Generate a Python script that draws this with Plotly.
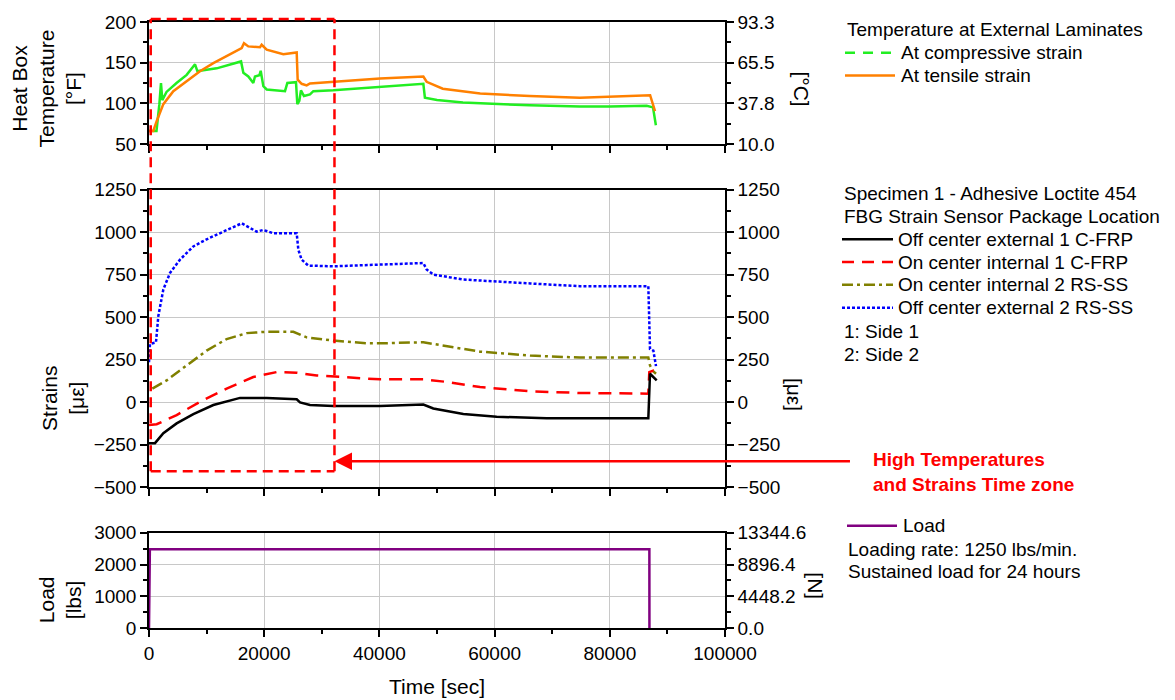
import plotly.graph_objects as go

# ---------------- data ----------------
# Heat box temperature [F]
comp_time = [0, 1300, 1800, 2080, 2310, 3040, 4780, 6540, 7990, 8400, 8850, 11750, 15980,
             16380, 17240, 18110, 18400, 19160, 19390, 19850, 20430, 23610, 24020, 25520,
             25750, 26100, 26380, 26900, 27950, 28530, 32000, 40100, 47630, 47900, 50000,
             54500, 60000, 66100, 74800, 80000, 86400, 87500, 88000]
comp_temp = [66, 66, 99, 125, 104, 114, 125, 135, 148, 139.5, 140, 143, 151.5,
             137.5, 133, 125, 133, 134.5, 140, 121, 117, 115, 125, 126,
             99, 103, 116, 109, 111, 115, 116, 120, 124, 107, 104,
             101, 99, 97.5, 96, 96, 97, 95, 73]

tens_time = [0, 750, 1330, 2490, 4220, 6540, 8850, 11170, 14640, 16090, 16490, 17240, 19270,
             19560, 20430, 23320, 25640, 25810, 26500, 27370, 27950, 32000, 40100, 47630,
             48200, 51000, 57500, 66100, 74800, 87000, 87850]
tens_temp = [66, 66, 78, 99, 115, 127, 139.5, 149.5, 162, 168, 174, 170, 169,
             172, 166, 160.5, 162.5, 129, 124, 122, 124.5, 126.5, 130.5, 133,
             126.5, 118, 112, 109, 107, 110, 90.5]

# FBG strains [micro-strain]
off1_time = [0, 1040, 2490, 4800, 7700, 11170, 15800, 20430, 25640, 26220, 27950, 32000,
             40100, 47630, 49360, 54570, 60360, 69040, 86690, 86980, 88140]
off1_strain = [-241, -241, -183, -125, -70, -17, 25, 25, 17, -2, -17, -23,
               -23, -14, -37, -70, -86, -95, -95, 167, 128]

on1_time = [0, 1330, 4800, 8850, 13480, 18110, 22160, 25640, 29110, 32000, 37790, 40100,
            47630, 51680, 57470, 66150, 74830, 86690, 86860, 87560, 88020]
on1_strain = [-134, -130, -76, 2, 80, 148, 177, 173, 157, 152, 138, 134,
              134, 119, 89, 64, 54, 50, 177, 186, 177]

on2_time = [580, 3070, 6540, 10010, 13480, 16960, 20430, 25060, 27370, 32000, 37790, 40100,
            47630, 51680, 57470, 66150, 74830, 86690, 86980, 87560, 88020]
on2_strain = [80, 128, 216, 303, 371, 406, 414, 414, 381, 362, 346, 346,
              352, 328, 297, 274, 262, 262, 216, 181, 167]

off2_time = [0, 170, 1210, 1620, 2490, 3650, 5380, 7700, 10010, 13480, 16090, 18690, 19850,
             21580, 25640, 25930, 26500, 27660, 32000, 40100, 47630, 48200, 49400, 54600,
             60400, 66200, 74800, 86690, 86980, 87560, 88020]
off2_strain = [235, 342, 352, 507, 663, 760, 838, 916, 958, 1013, 1052, 1003, 1013,
               993, 993, 896, 838, 803, 799, 809, 818, 780, 750, 721,
               708, 698, 682, 682, 313, 303, 212]

# Applied load [lbs]
load_time = [0, 150, 86870, 86880]
load_lbs = [0, 2480, 2480, 0]

# Axis ticks
temp_ticks_f = [50, 100, 150, 200]
strain_ticks = [-500, -250, 0, 250, 500, 750, 1000, 1250]
load_ticks = [0, 1000, 2000, 3000]
time_ticks = [0, 20000, 40000, 60000, 80000, 100000]

# High temperature / strain time window
ZONE_T0 = 300
ZONE_T1 = 32200
ZONE_STRAIN_BOTTOM = -407
ARROW_STRAIN = -348

# ---------------- styling ----------------
FONT = "Liberation Sans"
GRID = "#C8C8C8"
W, H = 1175, 700
L, R, T, B = 149, 450, 17, 72
PW, PH = W - L - R, H - T - B


def xp(px):
    return (px - L) / PW


def yp(py):
    return (H - B - py) / PH


TOP_DOM = [yp(140), yp(17)]
MID_DOM = [yp(486), yp(186)]
BOT_DOM = [yp(628), yp(532)]

fig = go.Figure()

# temperature
fig.add_trace(go.Scatter(x=comp_time, y=comp_temp, mode="lines", xaxis="x", yaxis="y",
                         line=dict(color="#22EE22", width=2.5), name="At compressive strain"))
fig.add_trace(go.Scatter(x=tens_time, y=tens_temp, mode="lines", xaxis="x", yaxis="y",
                         line=dict(color="#FF8000", width=2.5), name="At tensile strain"))

# strains
fig.add_trace(go.Scatter(x=off2_time, y=off2_strain, mode="lines", xaxis="x2", yaxis="y2",
                         line=dict(color="#0000FF", width=2.5, dash="3px,2px"),
                         name="Off center external 2 RS-SS"))
fig.add_trace(go.Scatter(x=on2_time, y=on2_strain, mode="lines", xaxis="x2", yaxis="y2",
                         line=dict(color="#808000", width=2.5, dash="11px,4px,3px,4px"),
                         name="On center internal 2 RS-SS"))
fig.add_trace(go.Scatter(x=on1_time, y=on1_strain, mode="lines", xaxis="x2", yaxis="y2",
                         line=dict(color="#FF0000", width=2.5, dash="13px,8px"),
                         name="On center internal 1 C-FRP"))
fig.add_trace(go.Scatter(x=off1_time, y=off1_strain, mode="lines", xaxis="x2", yaxis="y2",
                         line=dict(color="#000000", width=2.5),
                         name="Off center external 1 C-FRP"))

# load
fig.add_trace(go.Scatter(x=load_time, y=load_lbs, mode="lines", xaxis="x3", yaxis="y3",
                         line=dict(color="#800080", width=2.5), name="Load"))

# empty traces so the secondary (unit-converted) axes are drawn
for ya in ("y4", "y5", "y6"):
    fig.add_trace(go.Scatter(x=[None], y=[None], xaxis={"y4": "x", "y5": "x2", "y6": "x3"}[ya],
                             yaxis=ya, mode="lines", hoverinfo="skip"))

fig.update_traces(showlegend=False)

tick_font = dict(family=FONT, size=19, color="black")


def xaxis(anchor, labels, match=None):
    d = dict(domain=[0, 1], anchor=anchor, range=[0, 100000], tickvals=time_ticks,
             ticktext=[str(v) for v in time_ticks],
             showticklabels=labels, ticks="outside", ticklen=7, tickwidth=1.5,
             tickcolor="black", showline=True, linecolor="black", linewidth=1.5,
             mirror=True, showgrid=True, gridcolor=GRID, gridwidth=1, zeroline=False,
             tickfont=tick_font,
             minor=dict(dtick=10000, ticks="outside", ticklen=4, tickwidth=1.5,
                        tickcolor="black", showgrid=False))
    if match:
        d["matches"] = match
    return d


def yaxis(domain, rng, vals, minor, text=None, side="left", overlay=None, anchor=None):
    d = dict(domain=domain, range=rng, tickvals=vals, ticks="outside", ticklen=7,
             tickwidth=1.5, tickcolor="black", showline=True, linecolor="black",
             linewidth=1.5, zeroline=False, tickfont=tick_font, side=side,
             showgrid=overlay is None, gridcolor=GRID, gridwidth=1,
             minor=dict(dtick=minor, ticks="outside", ticklen=4, tickwidth=1.5,
                        tickcolor="black", showgrid=False))
    if text is not None:
        d["ticktext"] = text
    if overlay:
        d["overlaying"] = overlay
        d["anchor"] = anchor
    return d


def to_celsius_label(f):
    # converted value kept to two decimals, then shown with one
    c = int((f - 32) / 1.8 * 100) / 100
    return f"{round(c, 1):.1f}"


celsius_text = [to_celsius_label(v) for v in temp_ticks_f]
newton_text = [f"{v * 4.4482:.1f}" for v in load_ticks]

fig.update_layout(
    width=W, height=H, margin=dict(l=L, r=R, t=T, b=B, pad=0),
    paper_bgcolor="white", plot_bgcolor="white",
    font=dict(family=FONT, size=19, color="black"),
    xaxis=xaxis("y", False),
    xaxis2=xaxis("y2", False, "x"),
    xaxis3=xaxis("y3", True, "x"),
    yaxis=yaxis(TOP_DOM, [50, 200], temp_ticks_f, 25),
    yaxis2=yaxis(MID_DOM, [-500, 1250], strain_ticks, 125),
    yaxis3=yaxis(BOT_DOM, [0, 3000], load_ticks, 500),
    yaxis4=yaxis(TOP_DOM, [50, 200], temp_ticks_f, 25, celsius_text, "right", "y", "x"),
    yaxis5=yaxis(MID_DOM, [-500, 1250], strain_ticks, 125, None, "right", "y2", "x2"),
    yaxis6=yaxis(BOT_DOM, [0, 3000], load_ticks, 500, newton_text, "right", "y3", "x3"),
)

ann = []
shapes = []

# axis titles
title_font = dict(family=FONT, size=21, color="black")


def title(text, px, py, angle):
    ann.append(dict(text=text, x=xp(px), y=yp(py), xref="paper", yref="paper",
                    showarrow=False, textangle=angle, font=title_font,
                    xanchor="center", yanchor="middle"))


title("Heat Box<br>Temperature<br>[°F]", 47, 84, -90)
title("Strains<br>[με]", 63, 397, -90)
title("Load<br>[lbs]", 60, 600, -90)
title("[°C]", 802, 84, 90)
title("[με]", 794, 392, 90)
title("[N]", 816, 585, 90)
title("Time [sec]", 437, 687, 0)

# legends
leg_font = dict(family=FONT, size=19, color="black")


def text(t, px, py, color="black", bold=False):
    f = dict(leg_font)
    f["color"] = color
    if bold:
        t = f"<b>{t}</b>"
    ann.append(dict(text=t, x=xp(px), y=yp(py), xref="paper", yref="paper",
                    showarrow=False, xanchor="left", yanchor="middle", font=f, align="left"))


def sample(x0, x1, py, color, dash="solid"):
    shapes.append(dict(type="line", xref="paper", yref="paper", x0=xp(x0), x1=xp(x1),
                       y0=yp(py), y1=yp(py), line=dict(color=color, width=2.5, dash=dash)))


text("Temperature at External Laminates", 845, 25)
sample(845, 895, 48, "#22EE22", "10px,8px")
text("At compressive strain", 899, 48)
sample(845, 895, 71, "#FF8000")
text("At tensile strain", 899, 71)

text("Specimen 1 - Adhesive Loctite 454", 842, 190)
text("FBG Strain Sensor Package Location", 842, 213)
sample(842, 893, 236, "#000000")
text("Off center external 1 C-FRP", 896, 236)
sample(842, 893, 259, "#FF0000", "12px,8px")
text("On center internal 1 C-FRP", 896, 259)
sample(842, 893, 282, "#808000", "11px,4px,3px,4px")
text("On center internal 2 RS-SS", 896, 282)
sample(842, 893, 305, "#0000FF", "3px,2px")
text("Off center external 2 RS-SS", 896, 305)
text("1: Side 1", 842, 329)
text("2: Side 2", 842, 352)

sample(847, 897, 525, "#800080")
text("Load", 901, 525)
text("Loading rate: 1250 lbs/min.", 846, 549)
text("Sustained load for 24 hours", 846, 571)

# highlighted time zone
zone = dict(color="#FF0000", width=2.5, dash="10px,6px")
y_top = yp(14)
y_bot = MID_DOM[0] + (ZONE_STRAIN_BOTTOM + 500) / 1750 * (MID_DOM[1] - MID_DOM[0])
for x0, x1, y0, y1 in [(ZONE_T0, ZONE_T0, y_bot, y_top), (ZONE_T1, ZONE_T1, y_bot, y_top),
                       (ZONE_T0, ZONE_T1, y_top, y_top), (ZONE_T0, ZONE_T1, y_bot, y_bot)]:
    shapes.append(dict(type="line", xref="x", yref="paper", x0=x0, x1=x1, y0=y0, y1=y1,
                       line=zone))

ann.append(dict(x=ZONE_T1, y=ARROW_STRAIN, xref="x2", yref="y2", text="", showarrow=True,
                ax=852 - 335, ay=0, axref="pixel", ayref="pixel", arrowhead=2,
                arrowsize=1.4, arrowwidth=2.5, arrowcolor="#FF0000", standoff=0))
ann.append(dict(text="<b>High Temperatures<br>and Strains Time zone</b>", x=xp(871), y=yp(471),
                xref="paper", yref="paper", showarrow=False, xanchor="left", yanchor="middle",
                align="left", font=dict(family=FONT, size=19, color="#FF0000")))

fig.update_layout(annotations=ann, shapes=shapes)

fig.write_html("out.html")
